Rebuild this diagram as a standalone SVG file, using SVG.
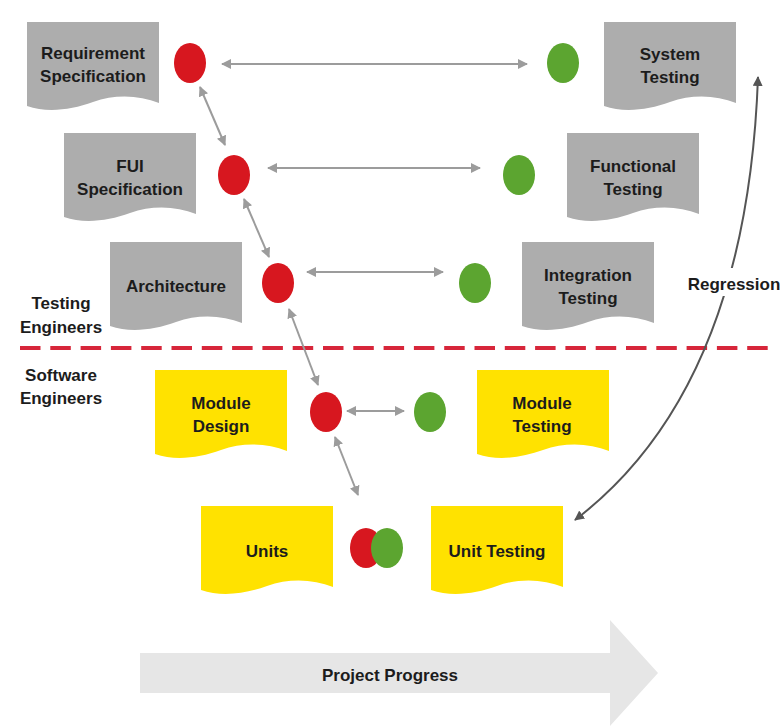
<svg xmlns="http://www.w3.org/2000/svg" width="784" height="728" viewBox="0 0 784 728">
<defs>
<style>
.t{font-family:"Liberation Sans",Arial,sans-serif;font-weight:bold;font-size:17px;fill:#1c1c1c;text-anchor:middle}
.gray{fill:#adadad}
.yel{fill:#ffe200}
.red{fill:#d7171f}
.grn{fill:#5ca530}
.con{stroke:#9c9c9c;stroke-width:2;fill:none;marker-start:url(#ah);marker-end:url(#ah)}
.reg{stroke:#555;stroke-width:2;fill:none;marker-start:url(#ah2);marker-end:url(#ah2)}
</style>
<path id="doc" d="M0,0 H132 V81 C112,73 88,72 66,80 C44,88 20,91 0,84 Z"/>
<marker id="ah" viewBox="0 0 10 10" refX="9" refY="5" markerWidth="5" markerHeight="5" orient="auto-start-reverse" markerUnits="strokeWidth">
<path d="M0,0 L10,5 L0,10 Z" fill="#9c9c9c"/>
</marker>
<marker id="ah2" viewBox="0 0 10 10" refX="9" refY="5" markerWidth="5" markerHeight="5" orient="auto-start-reverse" markerUnits="strokeWidth">
<path d="M0,0 L10,5 L0,10 Z" fill="#555"/>
</marker>
</defs>
<rect width="784" height="728" fill="#fff"/>

<g id="progress">
<polygon points="140,653 610,653 610,620 658,673 610,726 610,693 140,693" fill="#e6e6e6"/>
<text class="t" x="390" y="681">Project Progress</text>
</g>

<g id="divider">
<line x1="20" y1="348" x2="768" y2="348" stroke="#d7263a" stroke-width="4" stroke-dasharray="20.5 9.8"/>
<text class="t" x="61" y="309">Testing</text>
<text class="t" x="61" y="333">Engineers</text>
<text class="t" x="61" y="381">Software</text>
<text class="t" x="61" y="404">Engineers</text>
</g>

<g id="connectors">
<line class="con" x1="222" y1="64" x2="527" y2="64"/>
<line class="con" x1="268" y1="168" x2="480" y2="168"/>
<line class="con" x1="307" y1="272" x2="443" y2="272"/>
<line class="con" x1="347" y1="411" x2="404" y2="411"/>
<line class="con" x1="200" y1="87" x2="225" y2="145"/>
<line class="con" x1="244" y1="199" x2="269" y2="257"/>
<line class="con" x1="289" y1="309" x2="318" y2="385"/>
<line class="con" x1="335" y1="437" x2="358" y2="495"/>
<path class="reg" d="M575,520 C680,440 750,300 758,77"/>
<rect x="688" y="268" width="92" height="28" fill="#fff"/>
<text class="t" x="734" y="290">Regression</text>
</g>

<g id="req"><use href="#doc" x="27" y="22" class="gray"/><text class="t" x="93" y="59">Requirement</text><text class="t" x="93" y="82">Specification</text></g>
<g id="fui"><use href="#doc" x="64" y="133" class="gray"/><text class="t" x="130" y="172">FUI</text><text class="t" x="130" y="195">Specification</text></g>
<g id="arch"><use href="#doc" x="110" y="242" class="gray"/><text class="t" x="176" y="292">Architecture</text></g>
<g id="mdesign"><use href="#doc" x="155" y="370" class="yel"/><text class="t" x="221" y="409">Module</text><text class="t" x="221" y="432">Design</text></g>
<g id="units"><use href="#doc" x="201" y="506" class="yel"/><text class="t" x="267" y="557">Units</text></g>
<g id="sys"><use href="#doc" x="604" y="22" class="gray"/><text class="t" x="670" y="60">System</text><text class="t" x="670" y="83">Testing</text></g>
<g id="func"><use href="#doc" x="567" y="133" class="gray"/><text class="t" x="633" y="172">Functional</text><text class="t" x="633" y="195">Testing</text></g>
<g id="integ"><use href="#doc" x="522" y="242" class="gray"/><text class="t" x="588" y="281">Integration</text><text class="t" x="588" y="304">Testing</text></g>
<g id="mtest"><use href="#doc" x="477" y="370" class="yel"/><text class="t" x="542" y="409">Module</text><text class="t" x="542" y="432">Testing</text></g>
<g id="utest"><use href="#doc" x="431" y="506" class="yel"/><text class="t" x="497" y="557">Unit Testing</text></g>

<g id="r1"><ellipse class="red" cx="190" cy="63" rx="16" ry="20"/></g>
<g id="r2"><ellipse class="red" cx="234" cy="175" rx="16" ry="20"/></g>
<g id="r3"><ellipse class="red" cx="278" cy="283" rx="16" ry="20"/></g>
<g id="r4"><ellipse class="red" cx="326" cy="412" rx="16" ry="20"/></g>
<g id="r5"><ellipse class="red" cx="366" cy="548" rx="16" ry="20"/></g>
<g id="g1"><ellipse class="grn" cx="563" cy="63" rx="16" ry="20"/></g>
<g id="g2"><ellipse class="grn" cx="519" cy="175" rx="16" ry="20"/></g>
<g id="g3"><ellipse class="grn" cx="475" cy="283" rx="16" ry="20"/></g>
<g id="g4"><ellipse class="grn" cx="430" cy="412" rx="16" ry="20"/></g>
<g id="g5"><ellipse class="grn" cx="387" cy="548" rx="16" ry="20"/></g>
</svg>
